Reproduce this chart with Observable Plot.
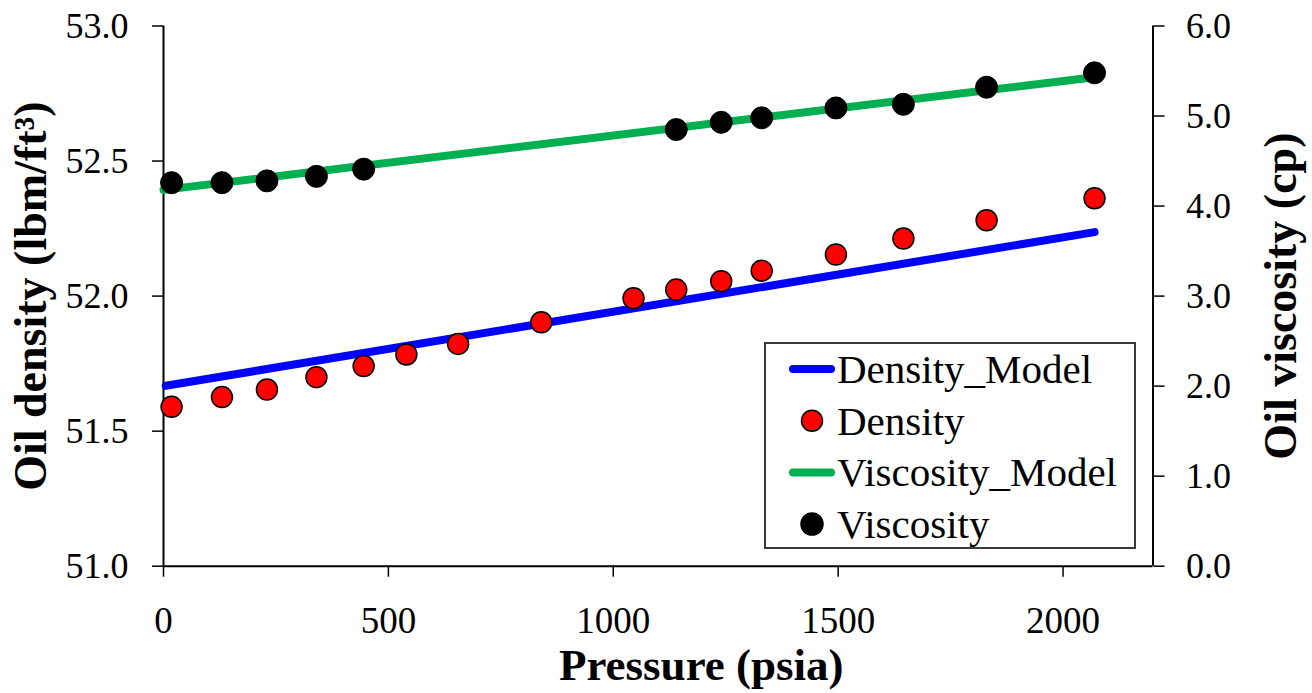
<!DOCTYPE html>
<html>
<head>
<meta charset="utf-8">
<script src="https://cdn.jsdelivr.net/npm/d3@7"></script>
<script src="https://cdn.jsdelivr.net/npm/@observablehq/plot@0.6"></script>
<style>
  html, body { margin: 0; padding: 0; background: #fff; }
  #wrap { position: relative; width: 1312px; height: 693px; }
  #legend { position: absolute; left: 764px; top: 342px; }
</style>
</head>
<body>
<div id="wrap"></div>
<script>
// ---- data ----
const densityPressure = [18, 130, 230, 340, 445, 540, 655, 840, 1045, 1140, 1240, 1330, 1495, 1645, 1830, 2070];
const densityValues   = [51.59, 51.626, 51.654, 51.70, 51.741, 51.784, 51.823, 51.903, 51.992, 52.024, 52.055, 52.094, 52.154, 52.213, 52.281, 52.362];

const viscosityPressure = [18, 130, 230, 340, 445, 1140, 1240, 1330, 1495, 1645, 1830, 2070];
const viscosityValues   = [4.26, 4.26, 4.28, 4.33, 4.41, 4.85, 4.93, 4.98, 5.09, 5.13, 5.32, 5.48];

const densityModelPressure = [5, 2070];
const densityModelValues   = [51.668, 52.237];
const viscosityModelPressure = [0, 2070];
const viscosityModelValues   = [4.18, 5.43];

const xTicks = [0, 500, 1000, 1500, 2000];
const densityTicks = [51.0, 51.5, 52.0, 52.5, 53.0];
const viscosityTicks = [0, 1, 2, 3, 4, 5, 6];

const legendLabels = ["Density_Model", "Density", "Viscosity_Model", "Viscosity"];
const legendKinds  = ["line", "dot", "line", "dot"];
const legendColors = ["#0000FF", "#FF0000", "#00B050", "#000000"];

// ---- dual axis: viscosity [0,6] mapped onto density [51,53] ----
const dMin = 51, dMax = 53, vMin = 0, vMax = 6;
const v2d = v => dMin + (v - vMin) * (dMax - dMin) / (vMax - vMin);
const d2v = d => vMin + (d - dMin) * (vMax - vMin) / (dMax - dMin);

const density = densityPressure.map((p, i) => ({p, d: densityValues[i]}));
const viscosity = viscosityPressure.map((p, i) => ({p, d: v2d(viscosityValues[i])}));
const densityModel = densityModelPressure.map((p, i) => ({p, d: densityModelValues[i]}));
const viscosityModel = viscosityModelPressure.map((p, i) => ({p, d: v2d(viscosityModelValues[i])}));

const FONT = "'Liberation Serif', 'DejaVu Serif', serif";

const chart = Plot.plot({
  width: 1312,
  height: 693,
  marginLeft: 163,
  marginRight: 159.5,
  marginTop: 25.5,
  marginBottom: 127.3,
  style: {fontFamily: FONT, fontSize: "36px", color: "#000", background: "#fff"},
  x: {domain: [0, 2200]},
  y: {domain: [dMin, dMax]},
  marks: [
    Plot.axisX({ticks: xTicks, tickSize: 11, tickPadding: 30, tickFormat: d => String(d), label: null, strokeWidth: 1.5, fontSize: 37}),
    Plot.axisY({anchor: "left", ticks: densityTicks, tickSize: 11, tickPadding: 24, tickFormat: d => d.toFixed(1), label: null, strokeWidth: 1.5, fontSize: 36}),
    Plot.axisY({anchor: "right", ticks: viscosityTicks.map(v2d), tickSize: 11, tickPadding: 22, tickFormat: d => d2v(d).toFixed(1), label: null, strokeWidth: 1.5, fontSize: 36}),
    Plot.ruleX([0], {stroke: "#000", strokeWidth: 2}),
    Plot.ruleX([2200], {stroke: "#000", strokeWidth: 2}),
    Plot.ruleY([dMin], {stroke: "#000", strokeWidth: 2}),
    Plot.line(densityModel, {x: "p", y: "d", stroke: "#0000FF", strokeWidth: 8, strokeLinecap: "round"}),
    Plot.dot(density, {x: "p", y: "d", r: 10.5, fill: "#FF0000", stroke: "#000", strokeWidth: 1.5}),
    Plot.line(viscosityModel, {x: "p", y: "d", stroke: "#00B050", strokeWidth: 8, strokeLinecap: "round"}),
    Plot.dot(viscosity, {x: "p", y: "d", r: 11, fill: "#000", stroke: "#000", strokeWidth: 1}),
    Plot.text(["Pressure (psia)"], {text: d => d, frameAnchor: "bottom", textAnchor: "middle", lineAnchor: "middle", dx: 43, dy: 99, fontSize: 45, fontWeight: "bold", fontFamily: FONT, fill: "#000"}),
    Plot.text(["Oil density (lbm/ft³)"], {text: d => d, frameAnchor: "left", textAnchor: "middle", lineAnchor: "middle", dx: -132, rotate: -90, fontSize: 46, fontWeight: "bold", fontFamily: FONT, fill: "#000"}),
    Plot.text(["Oil viscosity (cp)"], {text: d => d, frameAnchor: "right", textAnchor: "middle", lineAnchor: "middle", dx: 128, rotate: -90, fontSize: 46, fontWeight: "bold", fontFamily: FONT, fill: "#000"})
  ]
});
document.getElementById("wrap").appendChild(chart);

// ---- legend (inside plot area, as in the reference) ----
const lw = 372, lh = 207, rowTop = 27, rowStep = 51.7;
const legend = d3.select("#wrap").append("svg")
  .attr("id", "legend").attr("width", lw).attr("height", lh)
  .style("font-family", FONT);
legend.append("rect").attr("x", 1).attr("y", 1).attr("width", lw - 2).attr("height", lh - 2)
  .attr("fill", "#fff").attr("stroke", "#3a3a3a").attr("stroke-width", 2);
legendLabels.forEach((label, i) => {
  const cy = rowTop + i * rowStep;
  if (legendKinds[i] === "line") {
    legend.append("line").attr("x1", 29).attr("x2", 67).attr("y1", cy).attr("y2", cy)
      .attr("stroke", legendColors[i]).attr("stroke-width", 8).attr("stroke-linecap", "round");
  } else {
    legend.append("circle").attr("cx", 48).attr("cy", cy).attr("r", i === 1 ? 10.5 : 11)
      .attr("fill", legendColors[i]).attr("stroke", "#000").attr("stroke-width", 1.5);
  }
  legend.append("text").attr("x", 73).attr("y", cy + 14).attr("font-size", 41)
    .attr("fill", "#000").text(label);
});
</script>
</body>
</html>
